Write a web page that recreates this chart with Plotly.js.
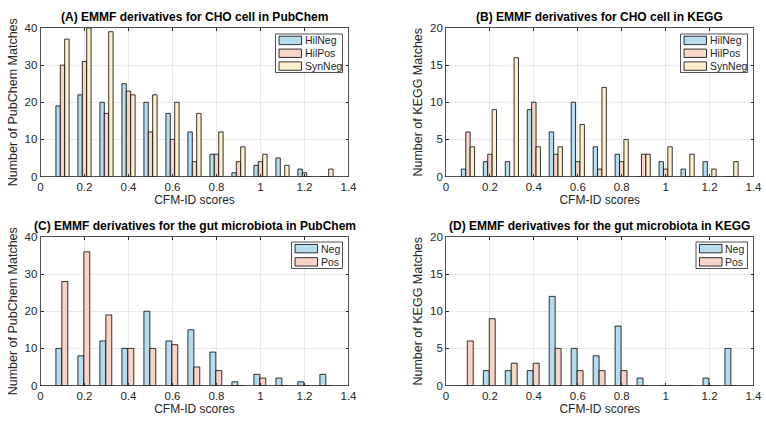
<!DOCTYPE html>
<html><head><meta charset="utf-8">
<script src="https://cdn.plot.ly/plotly-3.0.1.min.js"></script>
<style>html,body{margin:0;padding:0;background:#fff}#chart{width:766px;height:427px}</style>
</head><body><div id="chart"></div>
<script>
// Bin centres (CFM-ID scores)
const bins = [0.1,0.2,0.3,0.4,0.5,0.6,0.7,0.8,0.9,1.0,1.1,1.2,1.3];
const xTicks = [0,0.2,0.4,0.6,0.8,1,1.2,1.4];
const xTickText = ["0","0.2","0.4","0.6","0.8","1","1.2","1.4"];

// (A) CHO cell in PubChem
const A_HilNeg = [19,22,20,25,20,17,12,6,1,3,5,2,0];
const A_HilPos = [30,31,17,23,12,10,4,6,4,4,0,1,0];
const A_SynNeg = [37,40,39,22,22,20,17,12,8,6,3,0,2];
// (B) CHO cell in KEGG
const B_HilNeg = [1,2,2,9,6,10,4,3,0,2,1,2,0];
const B_HilPos = [6,3,0,10,3,2,1,2,3,1,0,0,0];
const B_SynNeg = [4,9,16,4,4,7,12,5,3,4,3,1,2];
// (C) gut microbiota in PubChem
const C_Neg = [10,8,12,10,20,12,15,9,1,3,2,1,3];
const C_Pos = [28,36,19,10,10,11,5,4,0,2,0,0,0];
// (D) gut microbiota in KEGG
const D_Neg = [0,2,2,2,12,5,4,8,1,0,0,1,5];
const D_Pos = [6,9,3,3,5,2,2,2,0,0,0,0,0];

const titles = [
  "(A) EMMF derivatives for CHO cell in PubChem",
  "(B) EMMF derivatives for CHO cell in KEGG",
  "(C) EMMF derivatives for the gut microbiota in PubChem",
  "(D) EMMF derivatives for the gut microbiota in KEGG"
];
const yTitles = ["Number of PubChem Matches","Number of KEGG Matches","Number of PubChem Matches","Number of KEGG Matches"];

const cBlue = "#b5ddef", cPink = "#f8d3c8", cYellow = "#fdf0cb";
const W = 766, H = 427;
const px = v => v / W, py = v => 1 - v / H;

function bar(x, y, name, color, ax, off, w){
  return {type:"bar", x:x, y:y, name:name, xaxis:"x"+ax, yaxis:"y"+ax, showlegend:false,
    width:w, offset:off, marker:{color:color, line:{color:"#000", width:0.8}}};
}
const w3 = 0.02, w2 = 0.027;
const data = [
  bar(bins, A_HilNeg, "HilNeg", cBlue, "", -0.03, w3),
  bar(bins, A_HilPos, "HilPos", cPink, "", -0.01, w3),
  bar(bins, A_SynNeg, "SynNeg", cYellow, "", 0.01, w3),
  bar(bins, B_HilNeg, "HilNeg", cBlue, "2", -0.03, w3),
  bar(bins, B_HilPos, "HilPos", cPink, "2", -0.01, w3),
  bar(bins, B_SynNeg, "SynNeg", cYellow, "2", 0.01, w3),
  bar(bins, C_Neg, "Neg", cBlue, "3", -0.03, w2),
  bar(bins, C_Pos, "Pos", cPink, "3", -0.003, w2),
  bar(bins, D_Neg, "Neg", cBlue, "4", -0.03, w2),
  bar(bins, D_Pos, "Pos", cPink, "4", -0.003, w2)
];

const fontFam = "Liberation Sans, Arial, sans-serif";
const panels = [
  {l:40.5, r:348.5, t:28, b:176.5, ymax:40, dt:10, traces:[0,1,2], leg:{l:275.5, r:342.5, t:34, b:72.5}},
  {l:446, r:753.5, t:28, b:176.5, ymax:20, dt:5, traces:[3,4,5], leg:{l:680.5, r:747.5, t:34, b:72.5}},
  {l:40.5, r:348.5, t:237, b:385.5, ymax:40, dt:10, traces:[6,7], leg:{l:291.5, r:342.5, t:242, b:268.5}},
  {l:446, r:753.5, t:237, b:385.5, ymax:20, dt:5, traces:[8,9], leg:{l:696, r:747.5, t:242, b:268.5}}
];
const layout = {width:W, height:H, margin:{l:0,r:0,t:0,b:0}, showlegend:false,
  paper_bgcolor:"#fff", plot_bgcolor:"#fff", barmode:"overlay",
  font:{family:fontFam, size:11, color:"#262626"}, annotations:[], shapes:[]};
const axSuffix = ["","2","3","4"];
panels.forEach((p,i)=>{
  const s = axSuffix[i];
  layout["xaxis"+s] = {domain:[px(p.l), px(p.r)], range:[0,1.4], anchor:"y"+s,
    tickvals:xTicks, ticktext:xTickText, ticks:"inside", ticklen:3, tickcolor:"#262626",
    showline:true, linecolor:"#262626", linewidth:0.8, mirror:"ticks",
    showgrid:true, gridcolor:"#e3e3e3", gridwidth:0.8, zeroline:false,
    tickfont:{size:11.5, color:"#262626"},
    title:{text:"CFM-ID scores", font:{size:12, color:"#262626"}, standoff:3}, automargin:false};
  layout["yaxis"+s] = {domain:[py(p.b), py(p.t)], range:[0,p.ymax], anchor:"x"+s,
    dtick:p.dt, ticks:"inside", ticklen:3, tickcolor:"#262626",
    showline:true, linecolor:"#262626", linewidth:0.8, mirror:"ticks",
    showgrid:true, gridcolor:"#e3e3e3", gridwidth:0.8, zeroline:false,
    tickfont:{size:11.5, color:"#262626"},
    title:{text:yTitles[i], font:{size:12.5, color:"#262626"}, standoff:4}, automargin:false};
  layout.annotations.push({text:"<b>"+titles[i]+"</b>", xref:"paper", yref:"paper",
    x:px((p.l+p.r)/2), y:py(p.t-11), xanchor:"center", yanchor:"middle", showarrow:false,
    font:{size:12, color:"#000", family:fontFam}});
  // MATLAB-style legend box
  const L = p.leg;
  layout.shapes.push({type:"rect", xref:"paper", yref:"paper", x0:px(L.l), x1:px(L.r), y0:py(L.b), y1:py(L.t),
    fillcolor:"#fff", line:{color:"#262626", width:0.8}, layer:"above"});
  const n = p.traces.length;
  const rowH = (L.b - L.t) / n;
  p.traces.forEach((ti,k)=>{
    const tr = data[ti];
    const cy = L.t + rowH*(k+0.5);
    layout.shapes.push({type:"rect", xref:"paper", yref:"paper",
      x0:px(L.l+3.5), x1:px(L.l+26), y0:py(cy+4.2), y1:py(cy-4.2),
      fillcolor:tr.marker.color, line:{color:"#000", width:0.8}, layer:"above"});
    layout.annotations.push({text:tr.name, xref:"paper", yref:"paper",
      x:px(L.l+27), y:py(cy), xanchor:"left", yanchor:"middle", showarrow:false,
      font:{size:10.5, color:"#262626", family:fontFam}});
  });
});
Plotly.newPlot("chart", data, layout, {displayModeBar:false, staticPlot:true});
</script></body></html>
